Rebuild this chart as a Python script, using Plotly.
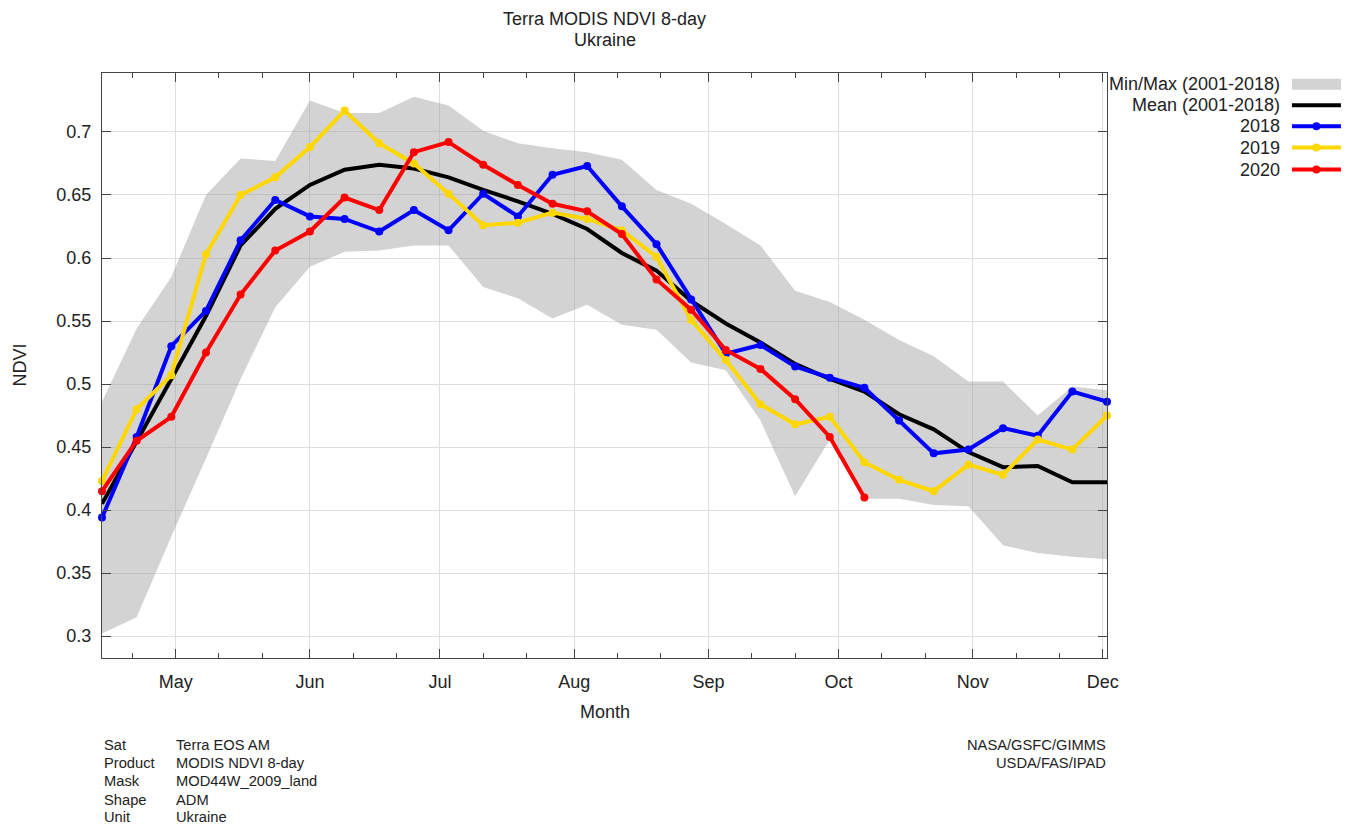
import plotly.graph_objects as go

# ---- data ----
dates = ["2020-04-14", "2020-04-22", "2020-04-30", "2020-05-08", "2020-05-16", "2020-05-24",
         "2020-06-01", "2020-06-09", "2020-06-17", "2020-06-25", "2020-07-03", "2020-07-11",
         "2020-07-19", "2020-07-27", "2020-08-04", "2020-08-12", "2020-08-20", "2020-08-28",
         "2020-09-05", "2020-09-13", "2020-09-21", "2020-09-29", "2020-10-07", "2020-10-15",
         "2020-10-23", "2020-10-31", "2020-11-08", "2020-11-16", "2020-11-24", "2020-12-02"]

ndvi_max = [0.486, 0.544, 0.585, 0.650, 0.679, 0.677, 0.725, 0.715, 0.715, 0.728,
            0.721, 0.701, 0.691, 0.687, 0.684, 0.678, 0.654, 0.643, 0.627, 0.610,
            0.574, 0.565, 0.551, 0.535, 0.522, 0.502, 0.502, 0.475, 0.498, 0.495]
ndvi_min = [0.302, 0.315, 0.379, 0.441, 0.504, 0.561, 0.593, 0.605, 0.606, 0.610,
            0.610, 0.577, 0.568, 0.552, 0.563, 0.547, 0.543, 0.517, 0.511, 0.471,
            0.411, 0.456, 0.409, 0.409, 0.404, 0.403, 0.372, 0.366, 0.363, 0.361]
ndvi_mean = [0.405, 0.454, 0.504, 0.554, 0.610, 0.639, 0.658, 0.670, 0.674, 0.671,
             0.664, 0.654, 0.645, 0.635, 0.623, 0.604, 0.590, 0.566, 0.548, 0.533,
             0.516, 0.504, 0.494, 0.476, 0.464, 0.446, 0.434, 0.435, 0.422, 0.422]
ndvi_2018 = [0.394, 0.458, 0.530, 0.558, 0.614, 0.646, 0.633, 0.631, 0.621, 0.638,
             0.622, 0.651, 0.633, 0.666, 0.673, 0.641, 0.611, 0.567, 0.524, 0.531,
             0.514, 0.505, 0.497, 0.471, 0.445, 0.448, 0.465, 0.459, 0.494, 0.486]
ndvi_2019 = [0.423, 0.480, 0.507, 0.603, 0.650, 0.664, 0.688, 0.717, 0.691, 0.675,
             0.651, 0.626, 0.628, 0.636, 0.631, 0.622, 0.601, 0.551, 0.519, 0.484,
             0.468, 0.474, 0.438, 0.424, 0.415, 0.436, 0.428, 0.456, 0.448, 0.475]
ndvi_2020 = [0.415, 0.455, 0.474, 0.525, 0.571, 0.606, 0.621, 0.648, 0.638, 0.684,
             0.692, 0.674, 0.658, 0.643, 0.637, 0.619, 0.583, 0.559, 0.527, 0.512,
             0.488, 0.458, 0.410]

month_ticks = ["2020-05-01", "2020-06-01", "2020-07-01", "2020-08-01",
               "2020-09-01", "2020-10-01", "2020-11-01", "2020-12-01"]
month_labels = ["May", "Jun", "Jul", "Aug", "Sep", "Oct", "Nov", "Dec"]
minor_ticks = ["2020-04-21", "2020-05-11", "2020-05-21", "2020-06-11", "2020-06-21",
               "2020-07-11", "2020-07-21", "2020-08-11", "2020-08-21", "2020-09-11",
               "2020-09-21", "2020-10-11", "2020-10-21", "2020-11-11", "2020-11-21"]
y_ticks = [0.3, 0.35, 0.4, 0.45, 0.5, 0.55, 0.6, 0.65, 0.7]

legend_names = ["Min/Max (2001-2018)", "Mean (2001-2018)", "2018", "2019", "2020"]
legend_colors = ["#d3d3d3", "#000000", "#0000ff", "#ffd700", "#ff0000"]

meta_labels = ["Sat", "Product", "Mask", "Shape", "Unit"]
meta_values = ["Terra EOS AM", "MODIS NDVI 8-day", "MOD44W_2009_land", "ADM", "Ukraine"]
credits = ["NASA/GSFC/GIMMS", "USDA/FAS/IPAD"]

FONT = "Liberation Sans, Arial, sans-serif"
TXT = "#222222"
FS = 18
META_FS = 14.7

fig = go.Figure()

# min/max band
fig.add_trace(go.Scatter(
    x=dates + dates[::-1], y=ndvi_max + ndvi_min[::-1],
    fill="toself", fillcolor="rgba(150,150,150,0.42)", line=dict(width=0),
    mode="lines", hoverinfo="skip", showlegend=False))

fig.add_trace(go.Scatter(x=dates, y=ndvi_mean, mode="lines",
                         line=dict(color="#000000", width=4), showlegend=False))
for vals, col in [(ndvi_2018, "#0000ff"), (ndvi_2019, "#ffd700"), (ndvi_2020, "#ff0000")]:
    fig.add_trace(go.Scatter(x=dates[:len(vals)], y=vals, mode="lines+markers",
                             line=dict(color=col, width=4),
                             marker=dict(color=col, size=8),
                             cliponaxis=False, showlegend=False))

axis_common = dict(
    showline=True, linecolor="#444444", linewidth=1, mirror="allticks",
    ticks="inside", ticklen=9, tickcolor="#444444", tickwidth=1,
    showgrid=True, gridcolor="#dedede", gridwidth=1, zeroline=False,
    tickfont=dict(family=FONT, size=FS, color=TXT),
)

fig.update_xaxes(
    type="date", range=[dates[0], dates[-1]],
    tickmode="array", tickvals=month_ticks, ticktext=month_labels,
    ticklabelstandoff=7,
    minor=dict(tickmode="array", tickvals=minor_ticks, ticks="inside", ticklen=5,
               tickcolor="#444444", showgrid=False),
    **axis_common)
fig.update_yaxes(
    range=[0.2826, 0.7468], tickmode="array", tickvals=y_ticks,
    ticktext=[f"{v:g}" for v in y_ticks], ticklabelstandoff=6,
    **axis_common)

annotations = []
shapes = []
# titles
annotations.append(dict(text="Terra MODIS NDVI 8-day", xref="paper", yref="paper",
                        x=0.5, y=(658 - 19) / 585.3, xanchor="center", yanchor="middle",
                        showarrow=False, font=dict(family=FONT, size=FS, color=TXT)))
annotations.append(dict(text="Ukraine", xref="paper", yref="paper",
                        x=0.5, y=(658 - 40) / 585.3, xanchor="center", yanchor="middle",
                        showarrow=False, font=dict(family=FONT, size=FS, color=TXT)))
annotations.append(dict(text="Month", xref="paper", yref="paper",
                        x=0.5, y=(658 - 712) / 585.3, xanchor="center", yanchor="middle",
                        showarrow=False, font=dict(family=FONT, size=FS, color=TXT)))
annotations.append(dict(text="NDVI", xref="paper", yref="paper", textangle=-90,
                        x=(20 - 101.7) / 1005.3, y=(658 - 365) / 585.3,
                        xanchor="center", yanchor="middle",
                        showarrow=False, font=dict(family=FONT, size=FS, color=TXT)))

# legend (text right, symbol on the right)
leg_y = [84, 105, 126, 147.3, 169.3]
for i, (name, col) in enumerate(zip(legend_names, legend_colors)):
    py = (658 - leg_y[i]) / 585.3
    annotations.append(dict(text=name, xref="paper", yref="paper",
                            x=(1282 - 101.7) / 1005.3, y=py, xanchor="right", yanchor="middle",
                            showarrow=False, font=dict(family=FONT, size=FS, color=TXT)))
    x0 = (1292 - 101.7) / 1005.3
    x1 = (1341 - 101.7) / 1005.3
    if i == 0:
        shapes.append(dict(type="rect", xref="paper", yref="paper",
                           x0=x0, x1=x1, y0=py - 5.5 / 585.3, y1=py + 5.5 / 585.3,
                           fillcolor=col, line=dict(width=0)))
    else:
        shapes.append(dict(type="line", xref="paper", yref="paper",
                           x0=x0, x1=x1, y0=py, y1=py, line=dict(color=col, width=4)))
        if i >= 2:
            shapes.append(dict(type="circle", xref="paper", yref="paper",
                               xsizemode="pixel", ysizemode="pixel",
                               xanchor=(x0 + x1) / 2, yanchor=py,
                               x0=-4, x1=4, y0=-4, y1=4,
                               fillcolor=col, line=dict(width=0)))

# metadata
meta_rows = [745, 763.2, 781.4, 799.6, 817]
for i, (lab, val) in enumerate(zip(meta_labels, meta_values)):
    py = (658 - meta_rows[i]) / 585.3
    annotations.append(dict(text=lab, xref="paper", yref="paper",
                            x=(102 - 101.7) / 1005.3, y=py, xanchor="left", yanchor="middle",
                            showarrow=False, font=dict(family=FONT, size=META_FS, color=TXT)))
    annotations.append(dict(text=val, xref="paper", yref="paper",
                            x=(174 - 101.7) / 1005.3, y=py, xanchor="left", yanchor="middle",
                            showarrow=False, font=dict(family=FONT, size=META_FS, color=TXT)))
for i, c in enumerate(credits):
    py = (658 - meta_rows[i]) / 585.3
    annotations.append(dict(text=c, xref="paper", yref="paper",
                            x=(1108 - 101.7) / 1005.3, y=py, xanchor="right", yanchor="middle",
                            showarrow=False, font=dict(family=FONT, size=META_FS, color=TXT)))

fig.update_layout(
    width=1346, height=824,
    margin=dict(l=102, r=239, t=73, b=166, pad=0),
    plot_bgcolor="white", paper_bgcolor="white",
    showlegend=False,
    annotations=annotations, shapes=shapes,
    font=dict(family=FONT, color=TXT),
)

fig.write_html("out.html", config={"displayModeBar": False},
               post_script="document.body.style.margin='0';")
